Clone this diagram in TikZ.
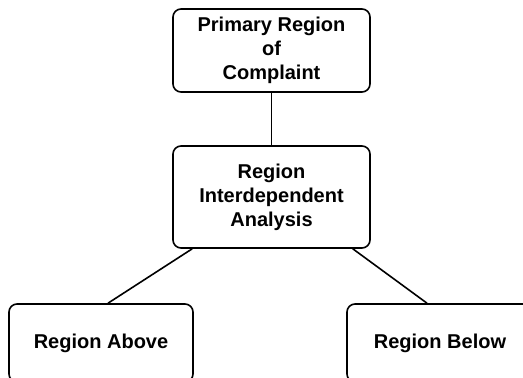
\documentclass[tikz,border=0pt]{standalone}
\usepackage{fontspec}
\setmainfont{Liberation Sans}
\usetikzlibrary{calc}
\begin{document}
\begin{tikzpicture}[x=1pt,y=-1pt,
  box/.style={draw=black, line width=1.6pt, rounded corners=8pt, fill=white,
    align=center, font=\fontsize{20}{24}\selectfont\bfseries, inner sep=0pt},
  link/.style={draw=black, line width=1.6pt}]
\useasboundingbox (0,0) rectangle (523,378);
\clip (0,0) rectangle (523,378);
\fill[white] (0,0) rectangle (523,378);
\node[box, minimum width=197pt, minimum height=83pt] (top) at (271.5,50.5) {Primary Region\\of\\Complaint};
\node[box, minimum width=197pt, minimum height=102pt] (mid) at (271.5,197) {Region\\Interdependent\\Analysis};
\node[box, minimum width=184pt, minimum height=78pt] (left) at (101,343) {Region Above};
\node[box, minimum width=186pt, minimum height=78pt] (right) at (440,343) {Region Below};
\coordinate (ml) at ($(mid.south west)+(20,0)$);
\coordinate (mr) at ($(mid.south east)+(-18,0)$);
\coordinate (lt) at ($(left.north)+(7,0)$);
\coordinate (rt) at ($(right.north)+(-13,0)$);
\draw[link] (top.south) -- (mid.north);
\draw[link] (ml) -- (lt);
\draw[link] (mr) -- (rt);
\end{tikzpicture}
\end{document}
